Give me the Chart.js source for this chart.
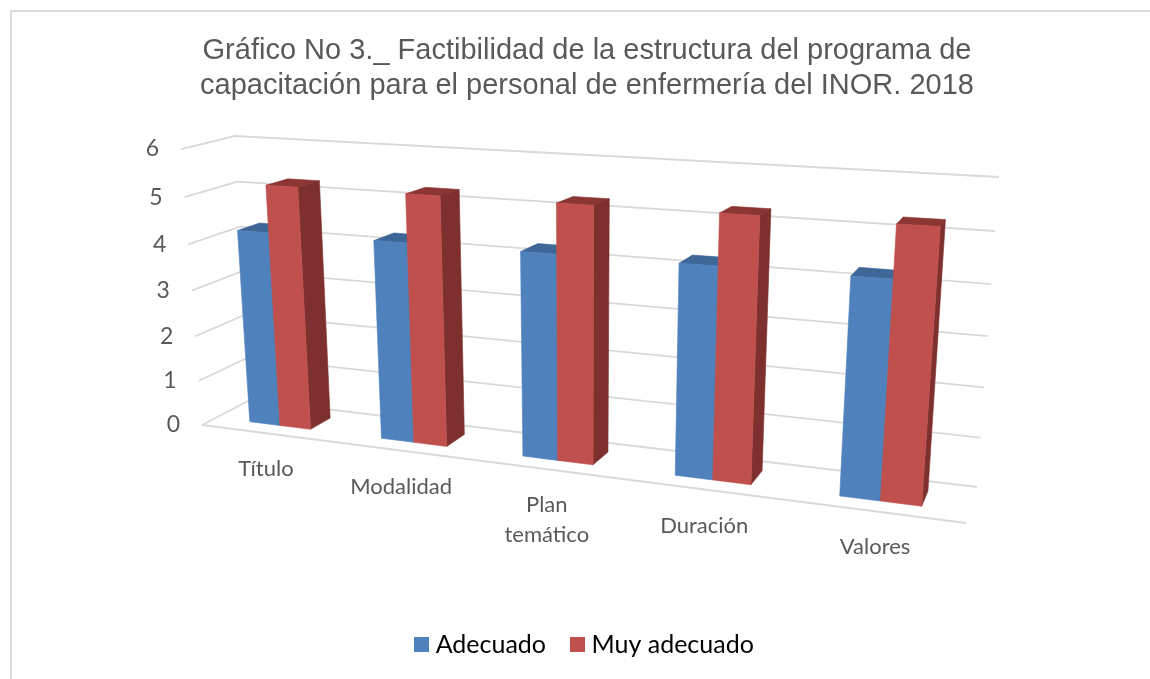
<!DOCTYPE html>
<html>
<head>
<meta charset="utf-8">
<script src="https://cdn.jsdelivr.net/npm/chart.js@4/dist/chart.umd.min.js"></script>
<style>
html,body{margin:0;padding:0;background:#fff;width:1150px;height:679px;overflow:hidden}
#frame{position:absolute;left:10px;top:10px;right:-5px;bottom:-5px;border-top:2.5px solid #dcdcdc;border-left:2.5px solid #dcdcdc}
#wrap{position:absolute;left:0;top:0;width:1150px;height:679px}
</style>
</head>
<body>
<div id="frame"></div>
<div id="wrap"><canvas id="c" width="1150" height="679"></canvas></div>
<script>
const categories = ['Título', 'Modalidad', ['Plan', 'temático'], 'Duración', 'Valores'];
const adecuado = [4.24, 4.24, 4.24, 4.24, 4.24];
const muyAdecuado = [5.24, 5.24, 5.24, 5.24, 5.24];
const yMax = 6;
const titleLines = ['Gráfico No 3._ Factibilidad de la estructura del programa de',
                    'capacitación para el personal de enfermería del INOR. 2018'];

// Perspective frame of the 3-D look (projection parameters only)
const frontQuad = [[202,425],[966,523],[992,190],[181,149]];
const backQuad  = [[250,400],[977,487],[999,177],[235,136]];
const depthFront = 0.30, depthBack = 0.73;

function homography(q){
  const [[x0,y0],[x1,y1],[x2,y2],[x3,y3]] = q;
  const sx=x0-x1+x2-x3, sy=y0-y1+y2-y3;
  const dx1=x1-x2, dx2=x3-x2, dy1=y1-y2, dy2=y3-y2;
  const den=dx1*dy2-dx2*dy1;
  const g=(sx*dy2-dx2*sy)/den, h=(dx1*sy-sx*dy1)/den;
  const a=x1-x0+g*x1, b=x3-x0+h*x3, d=y1-y0+g*y1, e=y3-y0+h*y3;
  return (u,v)=>{const w=g*u+h*v+1;return [(a*u+b*v+x0)/w,(d*u+e*v+y0)/w];};
}
const hFront=homography(frontQuad), hBack=homography(backQuad);
function project(u,v,w){
  const f=hFront(u,v), b=hBack(u,v);
  return [f[0]+(b[0]-f[0])*w, f[1]+(b[1]-f[1])*w];
}
function poly(ctx,pts,color){
  ctx.beginPath();
  pts.forEach((p,i)=>i?ctx.lineTo(p[0],p[1]):ctx.moveTo(p[0],p[1]));
  ctx.closePath();
  ctx.fillStyle=color;ctx.fill();
  ctx.strokeStyle=color;ctx.lineWidth=0.6;ctx.stroke();
}
function swatch(color){
  const c=document.createElement('canvas');c.width=15;c.height=15;
  const x=c.getContext('2d');x.fillStyle=color;x.fillRect(0,0,15,15);
  return c;
}

const seriesColors=[
  {front:'#4F81BD',top:'#3E6797',side:'#395E8B'},
  {front:'#C0504D',top:'#8C3634',side:'#7E302E'}
];

const perspectivePlugin={
  id:'perspective',
  beforeDraw(chart){
    const {x:xs,y:ys}=chart.scales, a=chart.chartArea;
    const uOf=px=>(px-a.left)/(a.right-a.left);
    const vOf=px=>(a.bottom-px)/(a.bottom-a.top);
    ys.getLabelItems(a).forEach((it,i)=>{
      const v=vOf(ys.getPixelForTick(i));
      const p=project(0,v,0);
      it.options.translation=[p[0]-22,p[1]];
    });
    xs.getLabelItems(a).forEach((it,i)=>{
      const p=project(uOf(xs.getPixelForTick(i)),0,0);
      it.options.textBaseline='middle';
      it.textOffset=0;
      it.options.translation=[p[0],p[1]+36];
    });
    // gridlines: left wall, back wall
    const ctx=chart.ctx;
    ctx.save();
    ctx.strokeStyle='#d9d9d9';ctx.lineWidth=1.8;
    ys.ticks.forEach(t=>{
      const v=vOf(ys.getPixelForValue(t.value));
      const p0=project(0,v,0),p1=project(0,v,1),p2=project(1,v,1);
      ctx.beginPath();ctx.moveTo(p0[0],p0[1]);ctx.lineTo(p1[0],p1[1]);ctx.lineTo(p2[0],p2[1]);ctx.stroke();
    });
    const f0=project(0,0,0),f1=project(1,0,0);
    ctx.beginPath();ctx.moveTo(f0[0],f0[1]);ctx.lineTo(f1[0],f1[1]);ctx.stroke();
    ctx.restore();
  },
  beforeDatasetsDraw(chart){
    const a=chart.chartArea, ctx=chart.ctx;
    const uOf=px=>(px-a.left)/(a.right-a.left);
    const vOf=px=>(a.bottom-px)/(a.bottom-a.top);
    const n=chart.data.labels.length, dsN=chart.data.datasets.length;
    ctx.save();
    for(let j=0;j<n;j++){
      for(let i=0;i<dsN;i++){
        const el=chart.getDatasetMeta(i).data[j];
        const u0=uOf(el.x-el.width/2),u1=uOf(el.x+el.width/2);
        const v1=vOf(el.y),v0=vOf(el.base);
        const w0=depthFront,w1=depthBack,col=seriesColors[i];
        poly(ctx,[project(u0,v1,w0),project(u1,v1,w0),project(u1,v1,w1),project(u0,v1,w1)],col.top);
        poly(ctx,[project(u1,v0,w0),project(u1,v0,w1),project(u1,v1,w1),project(u1,v1,w0)],col.side);
        poly(ctx,[project(u0,v0,w0),project(u1,v0,w0),project(u1,v1,w0),project(u0,v1,w0)],col.front);
      }
    }
    ctx.restore();
    return false;
  }
};

new Chart(document.getElementById('c'),{
  type:'bar',
  data:{
    labels:categories,
    datasets:[
      {label:'Adecuado',data:adecuado,backgroundColor:'#4F81BD'},
      {label:'Muy adecuado',data:muyAdecuado,backgroundColor:'#C0504D'}
    ]
  },
  plugins:[perspectivePlugin],
  options:{
    responsive:false,animation:false,
    layout:{padding:{top:33,left:100,right:76,bottom:12}},
    datasets:{bar:{categoryPercentage:0.47,barPercentage:1}},
    plugins:{
      tooltip:{enabled:false},
      title:{display:true,text:titleLines,color:'#595959',
        font:{family:'"Liberation Sans"',size:29,weight:'normal',lineHeight:1.207},
        padding:{top:0,bottom:46}},
      legend:{position:'bottom',
        labels:{
          usePointStyle:true,pointStyleWidth:3,boxHeight:15,padding:30,
          color:'#404040',font:{family:'Lato',size:25},
          generateLabels(chart){
            return chart.data.datasets.map((d,i)=>({
              text:d.label,fillStyle:d.backgroundColor,strokeStyle:d.backgroundColor,lineWidth:0,
              pointStyle:swatch(d.backgroundColor),datasetIndex:i,hidden:false
            }));
          }
        }
      }
    },
    scales:{
      x:{grid:{display:false},border:{display:false},
        ticks:{autoSkip:false,maxRotation:0,minRotation:0,color:'#595959',
          font:{family:'Lato',size:22,lineHeight:1.36}},
        afterFit(s){s.height=160;}},
      y:{min:0,max:yMax,grid:{display:false},border:{display:false},
        ticks:{stepSize:1,color:'#595959',font:{family:'Lato',size:23}},
        afterFit(s){s.width=90;}}
    }
  }
});
</script>
</body>
</html>
